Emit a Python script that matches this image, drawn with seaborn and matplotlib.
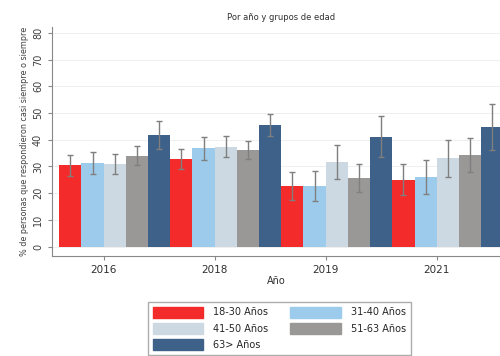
import numpy as np
import pandas as pd
import matplotlib
matplotlib.use('Agg')
import matplotlib.pyplot as plt
import seaborn as sns

years = ['2016', '2018', '2019', '2021']
groups = ['18-30 Años', '31-40 Años', '41-50 Años', '51-63 Años', '63> Años']
colors = ['#f42b2b', '#9dcbeb', '#cdd9e2', '#9a9797', '#3e6189']

# porcentaje por grupo de edad (filas = grupos, columnas = años)
val_18_30 = [30.4, 32.8, 22.7, 25.0]
val_31_40 = [31.2, 36.8, 22.6, 26.0]
val_41_50 = [30.8, 37.4, 31.8, 33.1]
val_51_63 = [34.1, 36.2, 25.7, 34.4]
val_63 = [41.9, 45.6, 41.2, 44.7]

err_18_30 = [3.9, 3.8, 5.2, 5.8]
err_31_40 = [4.1, 4.2, 5.6, 6.3]
err_41_50 = [3.8, 3.9, 6.3, 6.9]
err_51_63 = [3.7, 3.5, 5.2, 6.4]
err_63 = [5.2, 4.1, 7.8, 8.7]

vals = [val_18_30, val_31_40, val_41_50, val_51_63, val_63]
errs = [err_18_30, err_31_40, err_41_50, err_51_63, err_63]

rows = []
for g, v in zip(groups, vals):
    for y, x in zip(years, v):
        rows.append({'Año': y, 'grupo': g, 'valor': x})
df = pd.DataFrame(rows)

sns.set_style('white')
plt.rcParams['font.family'] = ['DejaVu Sans']

fig = plt.figure(figsize=(5, 3.56), dpi=100)
ax = fig.add_axes([0.104, 0.281, 0.896, 0.643])

sns.barplot(data=df, x='Año', y='valor', hue='grupo', hue_order=groups,
            order=years, palette=colors, saturation=1, width=1.0,
            errorbar=None, linewidth=0, ax=ax, legend=False)

for cont, e in zip(ax.containers, errs):
    xs = [b.get_x() + b.get_width() / 2 for b in cont]
    ys = [b.get_height() for b in cont]
    ax.errorbar(xs, ys, yerr=e, fmt='none', ecolor='#7f7f7f',
                elinewidth=1, capsize=2.5, capthick=1, zorder=3)

ax.set_ylim(-3.5, 82.2)
ax.set_xlim(-0.565, 3.47)
ax.set_yticks(range(0, 81, 10))
ax.tick_params(axis='y', labelsize=7, length=3, color='#888888',
               left=True, labelcolor='#404040')
ax.set_xticks(np.arange(len(years)) - 0.1, years)
ax.tick_params(axis='x', labelsize=7.5, length=3, color='#888888',
               bottom=True, labelcolor='#303030')
ax.yaxis.grid(True, color='#ececec', linewidth=0.6)
ax.set_axisbelow(True)
for s in ['top', 'right']:
    ax.spines[s].set_visible(False)
for s in ['left', 'bottom']:
    ax.spines[s].set_color('#888888')
    ax.spines[s].set_linewidth(0.8)

ax.set_xlabel('Año', fontsize=7, color='#303030', labelpad=1)
ax.set_ylabel('% de personas que respondieron casi siempre o siempre',
              fontsize=5.8, color='#404040', labelpad=3)
fig.text(0.562, 0.952, 'Por año y grupos de edad', fontsize=6,
         ha='center', va='center', color='#303030')

handles = [plt.Rectangle((0, 0), 1, 1, color=c) for c in colors]
order = [0, 2, 4, 1, 3]
ax.legend([handles[i] for i in order], [groups[i] for i in order],
          ncol=2, loc='upper left', bbox_to_anchor=(0.286, 0.166),
          bbox_transform=fig.transFigure, fontsize=7, frameon=True,
          fancybox=False, edgecolor='#999999', handlelength=5.2,
          handleheight=1.35, labelspacing=0.55, handletextpad=1.0,
          columnspacing=2.3, borderpad=0.5)

plt.setp(ax.get_yticklabels(), rotation=90, va='center')
fig.savefig('out.png', dpi=100)
